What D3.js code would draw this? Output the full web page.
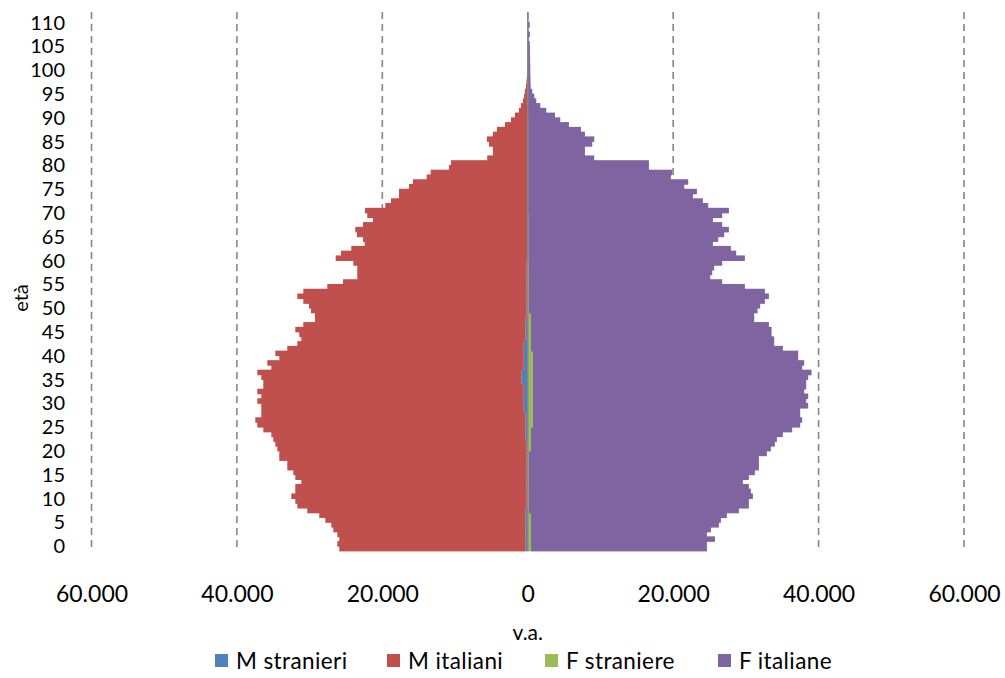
<!DOCTYPE html>
<html><head><meta charset="utf-8">
<script src="https://cdn.jsdelivr.net/npm/d3@7"></script>
<style>
body{margin:0;background:#fff;}
svg text{font-family:Lato,"Open Sans",sans-serif;fill:#000;}
</style>
</head><body>
<svg id="chart" width="1005" height="678"></svg>
<script>
// ---- data ----
const ages = d3.range(0, 113);
const yTickAges = d3.range(0, 111, 5);
const xTicks = [-60000, -40000, -20000, 0, 20000, 40000, 60000];
const seriesNames = ["M stranieri", "M italiani", "F straniere", "F italiane"];

const mStranieri = [
  300,300,300,300,300,300,300,300,300,150, 150,150,150,150,150,150,150,150,150,150,
  150,150,150,300,300,300,300,300,300,550, 550,550,550,550,550,850,850,850,550,550,
  550,550,550,550,300,300,300,300,300,150, 150,150,150,150,150,150,150,150,150,150,
  150,60,60,60,60,60,60,60,60,60, 60,30,30,30,30,30,30,30,30,30,
  30,30,30,30,30,30,30,30,30,30, 30,0,0,0,0,0,0,0,0,0,
  0,0,0,0,0,0,0,0,0,0, 0,0,0
];
const mItaliani = [
  25620,25895,25620,25895,26445,26720,27545,28370,30020,31540,
  31820,32370,31820,31820,30995,31820,32095,32920,32920,34020,
  34020,34295,34570,34695,34970,36070,36895,37170,36345,36095,
  36095,36645,36095,36645,35820,35520,35795,36345,34720,35270,
  33620,34170,32520,31140,30845,31120,31670,30570,28960,29110,
  29660,29935,30720,31540,30720,27420,25260,23295,23295,23295,
  23840,26355,25625,24210,22370,22600,23425,23660,22600,21225,
  22010,22355,19560,18780,17680,17680,16305,15755,13870,13320,
  10810,10530,5540,4755,4755,5305,5580,4755,4205,3105,
  2280,1760,1210,935,660,500,390,250,180,120,
  80,50,40,30,20,10,10,5,5,0,
  0,0,0
];
const fStraniere = [
  450,450,450,450,450,450,450,450,150,150, 150,150,150,150,150,150,150,150,150,150,
  150,450,450,450,450,450,700,700,700,700, 700,700,700,700,700,700,700,700,700,700,
  700,700,450,450,450,450,450,450,450,450, 150,150,150,150,150,150,150,150,150,150,
  150,80,80,80,80,80,80,80,80,80, 80,40,40,40,40,40,40,40,40,40,
  40,40,40,40,40,40,40,40,40,40, 40,0,0,0,0,0,0,0,0,0,
  0,0,0,0,0,0,0,0,0,0, 0,0,0
];
const fItaliane = [
  24190,24190,25290,24190,24740,25840,26115,26940,28890,30265,
  30265,30815,30540,30265,29440,30265,31090,31640,31640,31640,
  32740,32990,33540,33815,34640,35920,36770,37045,36770,36770,
  37870,37595,37870,37320,37595,37595,37870,38335,37045,37320,
  36495,36495,34640,33445,33445,33085,33085,32715,30695,30695,
  31460,31820,32465,33015,32465,29715,26595,24945,25220,25495,
  26595,29785,28590,27860,25385,26115,26940,27585,26665,25385,
  26665,27625,24780,24050,22675,23225,21480,22030,19650,19830,
  16625,16625,9105,7825,7825,8830,9105,7825,7275,5625,
  4430,3740,2545,1720,1170,895,620,400,380,360,
  350,340,330,320,310,300,280,150,300,120,
  280,80,120
];

// ---- layout ----
const colors = ["#4F81BD", "#C0504D", "#9BBB59", "#8064A2"];
const svg = d3.select("#chart");
const x = d3.scaleLinear().domain([-60000, 60000]).range([91.5, 964]);
const y = d3.scaleBand().domain(ages).range([551, 13]).paddingInner(0);
const plotTop = 12, plotBottom = 551;

// gridlines
svg.append("g").selectAll("line").data(xTicks.filter(d => d !== 0)).join("line")
  .attr("x1", d => x(d)).attr("x2", d => x(d))
  .attr("y1", plotTop).attr("y2", plotBottom)
  .attr("stroke", "#868686").attr("stroke-width", 1.6)
  .attr("stroke-dasharray", "7,5");

// stacked bars
const rows = ages.map((a, i) => ({
  age: a, ms: mStranieri[i], mi: mItaliani[i], fs: fStraniere[i], fi: fItaliane[i]
}));
const segs = [];
rows.forEach(r => {
  segs.push({age: r.age, x0: -r.ms, x1: 0, k: 0});
  segs.push({age: r.age, x0: -r.ms - r.mi, x1: -r.ms, k: 1});
  segs.push({age: r.age, x0: 0, x1: r.fs, k: 2});
  segs.push({age: r.age, x0: r.fs, x1: r.fs + r.fi, k: 3});
});
svg.append("g").selectAll("rect").data(segs.filter(s => s.x1 - s.x0 > 0)).join("rect")
  .attr("x", s => x(s.x0))
  .attr("width", s => x(s.x1) - x(s.x0))
  .attr("y", s => y(s.age) - 0.4)
  .attr("height", y.bandwidth() + 0.8)
  .attr("fill", s => colors[s.k]);

// zero axis line
svg.append("line")
  .attr("x1", x(0)).attr("x2", x(0)).attr("y1", plotTop).attr("y2", plotBottom)
  .attr("stroke", "#868686").attr("stroke-width", 1.5);

// x axis labels
const fmt = d => d3.format(",")(Math.abs(d)).replace(/,/g, ".");
const xAxis = svg.append("g").attr("transform", "translate(0,586)")
  .call(d3.axisBottom(x).tickValues(xTicks).tickFormat(fmt).tickSize(0).tickPadding(0));
xAxis.select(".domain").remove();
xAxis.selectAll("text").attr("font-size", 23).attr("font-family", "Lato");

// y axis labels
const yAxis = svg.append("g").attr("transform", "translate(65,-1.8)")
  .call(d3.axisLeft(y).tickValues(yTickAges).tickSize(0).tickPadding(0));
yAxis.select(".domain").remove();
yAxis.selectAll("text").attr("font-size", 20).attr("font-family", "Lato");

// axis titles
svg.append("text").attr("transform", "translate(21,298) rotate(-90)")
  .attr("text-anchor", "middle").attr("dy", "0.35em").attr("font-size", 20).text("età");
svg.append("text").attr("x", x(0)).attr("y", 633)
  .attr("text-anchor", "middle").attr("dy", "0.35em").attr("font-size", 21).text("v.a.");

// legend
const legendX = [215, 387, 545, 718];
const lg = svg.append("g").selectAll("g").data(seriesNames).join("g")
  .attr("transform", (d, i) => `translate(${legendX[i]},654)`);
lg.append("rect").attr("width", 13).attr("height", 13).attr("fill", (d, i) => colors[i]);
lg.append("text").attr("x", 21).attr("y", 6.5).attr("dy", "0.36em")
  .attr("font-size", 22.5).attr("letter-spacing", 0.4).text(d => d);
</script>
</body></html>
